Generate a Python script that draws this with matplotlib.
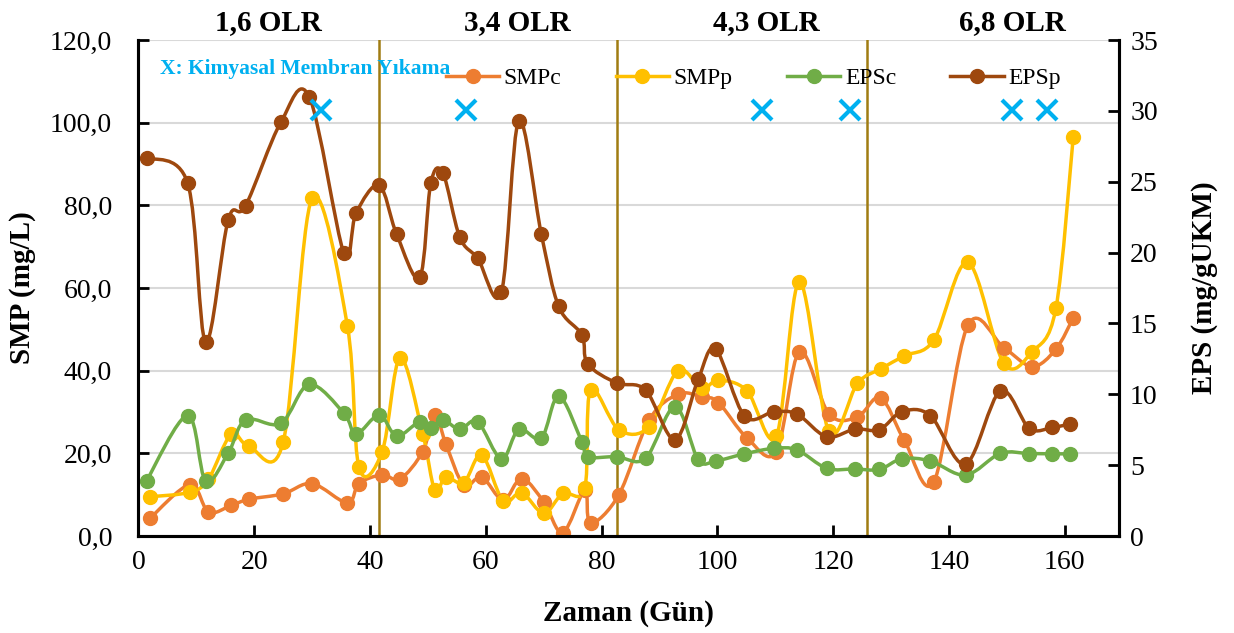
import matplotlib.pyplot as plt
import numpy as np
from matplotlib.path import Path
from matplotlib.patches import PathPatch
from matplotlib.lines import Line2D

plt.rcParams['font.family'] = ['Liberation Serif', 'DejaVu Serif']

# sampling days
smp_days = [2.0, 8.9, 12.1, 16.0, 19.1, 25.0, 30.0, 36.1, 38.1, 42.1,
            45.2, 49.1, 51.2, 53.1, 56.2, 59.3, 63.0, 66.2, 70.0, 73.3,
            77.1, 78.1, 83.0, 88.2, 93.2, 97.3, 100.2, 105.1, 110.2, 114.2,
            119.3, 124.2, 128.2, 132.3, 137.4, 143.3, 149.5, 154.4, 158.5, 161.5]
eps_days = [1.4, 8.5, 11.6, 15.5, 18.5, 24.6, 29.5, 35.5, 37.6, 41.6,
            44.6, 48.6, 50.5, 52.6, 55.5, 58.6, 62.7, 65.7, 69.6, 72.6,
            76.6, 77.6, 82.6, 87.6, 92.7, 96.7, 99.7, 104.7, 109.8, 113.8,
            118.9, 123.8, 128.0, 131.9, 136.8, 142.9, 148.9, 153.9, 157.9, 161.0]

# SMP (mg/L)
smpc = [4.3, 12.4, 5.8, 7.4, 8.9, 10.2, 12.7, 8.0, 12.7, 14.8,
        13.8, 20.4, 29.3, 22.3, 12.3, 14.3, 8.7, 13.9, 8.3, 0.8,
        11.1, 3.1, 10.0, 28.0, 34.3, 33.7, 32.3, 23.8, 20.4, 44.6,
        29.5, 28.8, 33.5, 23.2, 13.1, 51.0, 45.6, 41.0, 45.2, 52.8]
smpp = [9.5, 10.6, 13.8, 24.6, 21.7, 22.7, 81.7, 50.8, 16.6, 20.4,
        43.1, 24.8, 11.1, 14.3, 12.9, 19.6, 8.5, 10.5, 5.5, 10.3,
        11.5, 35.3, 25.7, 26.4, 40.0, 35.7, 37.7, 35.2, 24.2, 61.5,
        25.3, 36.9, 40.4, 43.6, 47.4, 66.2, 41.8, 44.6, 55.1, 96.6]

# EPS (mg/gUKM)
epsc = [3.9, 8.5, 3.9, 5.85, 8.2, 7.95, 10.7, 8.66, 7.2, 8.54,
        7.06, 8.07, 7.6, 8.19, 7.53, 8.07, 5.43, 7.53, 6.9, 9.88,
        6.65, 5.6, 5.6, 5.48, 9.13, 5.4, 5.3, 5.8, 6.19, 6.07,
        4.78, 4.73, 4.7, 5.45, 5.3, 4.3, 5.83, 5.82, 5.8, 5.8]
epsp = [26.7, 24.9, 13.7, 22.3, 23.3, 29.2, 31.0, 19.95, 22.8, 24.75,
        21.3, 18.25, 24.9, 25.6, 21.1, 19.6, 17.2, 29.3, 21.3, 16.2,
        14.2, 12.15, 10.8, 10.3, 6.8, 11.06, 13.2, 8.47, 8.77, 8.6,
        7.0, 7.55, 7.5, 8.77, 8.5, 5.08, 10.23, 7.6, 7.67, 7.9]

# chemical membrane cleaning days
wash_days = [31.5, 56.6, 107.8, 122.9, 151.0, 156.9]
wash_level = 103.0

# OLR periods
olr_bounds = [41.6, 82.7, 125.8]
olr_labels = ['1,6 OLR', '3,4 OLR', '4,3 OLR', '6,8 OLR']
olr_label_x = [22.4, 65.4, 108.5, 150.9]

c_smpc = '#ED7D31'
c_smpp = '#FFC000'
c_epsc = '#70AD47'
c_epsp = '#9E480E'
c_wash = '#00B0F0'
c_olr = '#A07C12'


def smooth_path(x, y):
    # Catmull-Rom style cubic Bezier through the points
    pts = np.column_stack([x, y]).astype(float)
    n = len(pts)
    verts = [pts[0]]
    codes = [Path.MOVETO]
    for i in range(n - 1):
        p0 = pts[i - 1] if i > 0 else pts[i]
        p1 = pts[i]
        p2 = pts[i + 1]
        p3 = pts[i + 2] if i + 2 < n else pts[i + 1]
        verts += [p1 + (p2 - p0) / 6, p2 - (p3 - p1) / 6, p2]
        codes += [Path.CURVE4] * 3
    return Path(verts, codes)


def draw_series(ax, x, y, color):
    ax.add_patch(PathPatch(smooth_path(x, y), fill=False, edgecolor=color,
                           lw=2.5, capstyle='round', joinstyle='round'))
    ax.plot(x, y, 'o', color=color, ms=10, ls='none')


fig = plt.figure(figsize=(12.34, 6.33), dpi=100)
ax = fig.add_axes([0.1122, 0.1532, 0.7946, 0.7836])
ax2 = ax.twinx()

ax.set_xlim(0, 169.4)
ax.set_ylim(0, 120)
ax2.set_ylim(0, 35)

ax.set_yticks(np.arange(0, 121, 20))
ax.set_yticklabels([f'{v:.1f}'.replace('.', ',') for v in np.arange(0, 121, 20)])
ax2.set_yticks(np.arange(0, 36, 5))
ax.set_xticks(np.arange(0, 161, 20))

ax.grid(axis='y', color='#D9D9D9', lw=1.5)
ax.set_axisbelow(True)

for a in (ax, ax2):
    a.tick_params(direction='in', length=8, width=2, labelsize=20, colors='black')
    for s in a.spines.values():
        s.set_linewidth(2.2)
    a.spines['top'].set_visible(False)
ax.tick_params(axis='x', pad=10)
ax.tick_params(axis='y', pad=19)
ax2.tick_params(axis='y', pad=8)

for b in olr_bounds:
    ax.axvline(b, color=c_olr, lw=1.8, zorder=1)

draw_series(ax, smp_days, smpc, c_smpc)
draw_series(ax, smp_days, smpp, c_smpp)
draw_series(ax2, eps_days, epsc, c_epsc)
draw_series(ax2, eps_days, epsp, c_epsp)

ax2.plot(wash_days, [wash_level * 35 / 120] * len(wash_days), 'x', color=c_wash,
         ms=14, mew=3, ls='none')

for lx, lab in zip(olr_label_x, olr_labels):
    ax.text(lx, 1.035, lab, transform=ax.get_xaxis_transform(), ha='center',
            va='center', fontsize=21, fontweight='bold')

ax.text(0.022, 0.942, 'X: Kimyasal Membran Yıkama', transform=ax.transAxes,
        color=c_wash, fontsize=15.5, fontweight='bold', ha='left', va='center')

ax.set_xlabel('Zaman (Gün)', fontsize=21, fontweight='bold', labelpad=18)
ax.set_ylabel('SMP (mg/L)', fontsize=21, fontweight='bold', labelpad=10)
ax2.set_ylabel('EPS (mg/gUKM)', fontsize=21, fontweight='bold', labelpad=24)

handles = [Line2D([], [], color=c, lw=2.5, marker='o', ms=10)
           for c in (c_smpc, c_smpp, c_epsc, c_epsp)]
fig.legend(handles, ['SMPc', 'SMPp', 'EPSc', 'EPSp'], ncol=4, frameon=False,
           loc='center left', bbox_to_anchor=(446 / 1234, 1 - 78 / 633),
           fontsize=17, handlelength=2.25, handletextpad=0.2, columnspacing=2.3,
           borderpad=0, borderaxespad=0)

fig.savefig('out.png', dpi=100)
